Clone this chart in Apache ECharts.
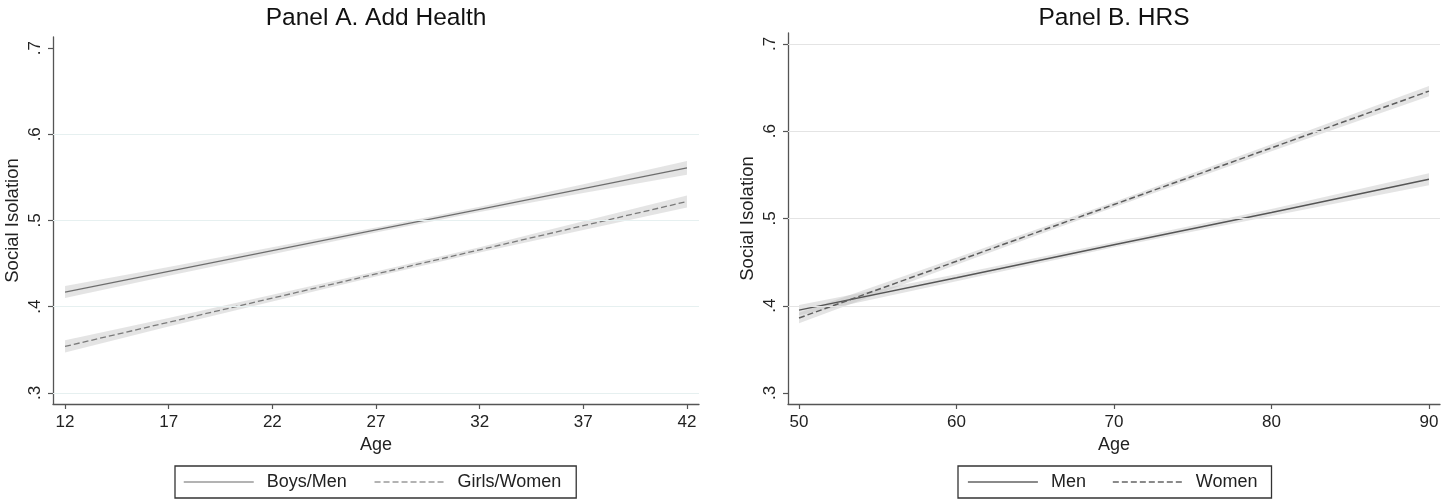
<!DOCTYPE html>
<html>
<head>
<meta charset="utf-8">
<script src="https://cdn.jsdelivr.net/npm/echarts@6/dist/echarts.min.js"></script>
<style>
html,body{margin:0;padding:0;background:#fff;}
#c{width:1448px;height:504px;}
</style>
</head>
<body>
<div id="c"></div>
<script>
// ---- Data ----
const titleA = 'Panel A. Add Health';
const titleB = 'Panel B. HRS';
const ageA = [12, 17, 22, 27, 32, 37, 42];
const boysMen   = [0.417, 0.441, 0.465, 0.489, 0.513, 0.537, 0.561];
const boysLo    = [0.410, 0.436, 0.461, 0.486, 0.510, 0.532, 0.553];
const boysHi    = [0.424, 0.446, 0.469, 0.492, 0.516, 0.542, 0.569];
const girlsWomen= [0.354, 0.382, 0.410, 0.438, 0.466, 0.494, 0.522];
const girlsLo   = [0.347, 0.377, 0.406, 0.435, 0.463, 0.489, 0.515];
const girlsHi   = [0.361, 0.387, 0.414, 0.441, 0.469, 0.499, 0.529];

const ageB = [50, 60, 70, 80, 90];
const men      = [0.395, 0.432, 0.470, 0.507, 0.545];
const menLo    = [0.389, 0.428, 0.467, 0.503, 0.538];
const menHi    = [0.401, 0.436, 0.473, 0.511, 0.552];
const women    = [0.386, 0.451, 0.516, 0.581, 0.646];
const womenLo  = [0.380, 0.447, 0.513, 0.577, 0.640];
const womenHi  = [0.392, 0.455, 0.519, 0.585, 0.652];

const xTicksA = [12, 17, 22, 27, 32, 37, 42];
const xTicksB = [50, 60, 70, 80, 90];
const yTicks  = [0.3, 0.4, 0.5, 0.6, 0.7];
const gridLinesA = [0.3, 0.4, 0.5, 0.6];
const gridLinesB = [0.4, 0.5, 0.6, 0.7];

// ---- Helpers ----
const FONT = 'Liberation Sans, Arial, Helvetica, sans-serif';
const pairs = (xs, ys) => xs.map((x, i) => [x, ys[i]]);
const yFmt = v => v.toFixed(1).replace(/^0\./, '.');

function band(idx, xs, lo, hi) {
  return {
    type: 'custom', xAxisIndex: idx, yAxisIndex: idx, silent: true, z: 1, clip: true,
    data: xs.map((x, i) => [x, lo[i], hi[i]]),
    encode: { x: 0, y: [1, 2] },
    renderItem: function (params, api) {
      if (params.dataIndex !== 0) return null;
      const pts = [];
      for (let i = 0; i < xs.length; i++) pts.push(api.coord([xs[i], hi[i]]));
      for (let i = xs.length - 1; i >= 0; i--) pts.push(api.coord([xs[i], lo[i]]));
      return { type: 'polygon', shape: { points: pts },
        style: { fill: 'rgba(190,190,190,0.42)', stroke: null } };
    }
  };
}
function gridMark(vals, color) {
  return { silent: true, symbol: 'none', label: { show: false },
    lineStyle: { color: color, width: 1, type: 'solid' },
    data: vals.map(v => ({ yAxis: v })) };
}
function xAxis(idx, min, max, ticks) {
  return { gridIndex: idx, type: 'value', min: min, max: max,
    name: 'Age', nameLocation: 'middle', nameGap: 31,
    nameTextStyle: { fontFamily: FONT, fontSize: 18, color: '#222' },
    axisLine: { show: true, onZero: false, lineStyle: { color: '#555', width: 1.3 } },
    axisTick: { show: true, length: 5, customValues: ticks, lineStyle: { color: '#555', width: 1.2 } },
    axisLabel: { customValues: ticks, fontFamily: FONT, fontSize: 17, color: '#222', margin: 10 },
    splitLine: { show: false } };
}
function yAxis(idx, min, max) {
  return { gridIndex: idx, type: 'value', min: min, max: max,
    name: 'Social Isolation', nameLocation: 'middle', nameGap: 31,
    nameTextStyle: { fontFamily: FONT, fontSize: 18.5, color: '#222' },
    axisLine: { show: true, onZero: false, lineStyle: { color: '#555', width: 1.3 } },
    axisTick: { show: true, length: 5, customValues: yTicks, lineStyle: { color: '#555', width: 1.2 } },
    axisLabel: { customValues: yTicks, rotate: 90, formatter: yFmt, fontFamily: FONT, fontSize: 17, color: '#222', margin: 9 },
    splitLine: { show: false } };
}
function legend(names, left, pad, gap, lineColor, lineWidth) {
  return { data: names, left: left, top: 466, orient: 'horizontal',
    padding: pad, itemGap: gap, itemWidth: 70, itemHeight: 14,
    borderColor: '#333', borderWidth: 1.3, borderRadius: 0,
    itemStyle: { opacity: 0, borderWidth: 0 },
    lineStyle: { color: lineColor, width: lineWidth },
    textStyle: { fontFamily: FONT, fontSize: 18, color: '#222', padding: [0, 0, 0, 8] } };
}

const option = {
  animation: false,
  backgroundColor: '#fff',
  title: [
    { text: titleA, left: 376, top: 6, textAlign: 'center', padding: 0,
      textStyle: { fontFamily: FONT, fontSize: 24.5, fontWeight: 'normal', color: '#111' } },
    { text: titleB, left: 1114, top: 6, textAlign: 'center', padding: 0,
      textStyle: { fontFamily: FONT, fontSize: 24.5, fontWeight: 'normal', color: '#111' } }
  ],
  grid: [
    { left: 53, right: 749, top: 37, bottom: 100 },
    { left: 788, right: 8, top: 33, bottom: 100 }
  ],
  xAxis: [ xAxis(0, 11.42, 42.58, xTicksA), xAxis(1, 49.3, 90.7, xTicksB) ],
  yAxis: [ yAxis(0, 0.2872, 0.7128), yAxis(1, 0.2874, 0.7126) ],
  legend: [
    legend(['Boys/Men', 'Girls/Women'], 175, [7, 15, 7, 8], 27, '#9a9a9a', 1.5),
    legend(['Men', 'Women'], 958, [7, 14, 7, 9], 26, '#8a8a8a', 1.8)
  ],
  series: [
    band(0, ageA, boysLo, boysHi),
    band(0, ageA, girlsLo, girlsHi),
    band(1, ageB, menLo, menHi),
    band(1, ageB, womenLo, womenHi),
    { type: 'line', name: '_gridA', xAxisIndex: 0, yAxisIndex: 0, data: [], z: 0,
      markLine: gridMark(gridLinesA, '#e6f0f0') },
    { type: 'line', name: '_gridB', xAxisIndex: 1, yAxisIndex: 1, data: [], z: 0,
      markLine: gridMark(gridLinesB, '#e4e4e4') },
    { type: 'line', name: 'Boys/Men', xAxisIndex: 0, yAxisIndex: 0, data: pairs(ageA, boysMen),
      symbol: 'none', showSymbol: false, z: 3, lineStyle: { color: '#6e6e6e', width: 1.3 }, itemStyle: { color: '#6e6e6e' } },
    { type: 'line', name: 'Girls/Women', xAxisIndex: 0, yAxisIndex: 0, data: pairs(ageA, girlsWomen),
      symbol: 'none', showSymbol: false, z: 3, lineStyle: { color: '#7a7a7a', width: 1.3, type: [6, 3] }, itemStyle: { color: '#7a7a7a' } },
    { type: 'line', name: 'Men', xAxisIndex: 1, yAxisIndex: 1, data: pairs(ageB, men),
      symbol: 'none', showSymbol: false, z: 3, lineStyle: { color: '#555', width: 1.5 }, itemStyle: { color: '#555' } },
    { type: 'line', name: 'Women', xAxisIndex: 1, yAxisIndex: 1, data: pairs(ageB, women),
      symbol: 'none', showSymbol: false, z: 3, lineStyle: { color: '#5e5e5e', width: 1.5, type: [6, 3] }, itemStyle: { color: '#5e5e5e' } }
  ]
};

const chart = echarts.init(document.getElementById('c'), null, { renderer: 'canvas' });
chart.setOption(option);
</script>
</body>
</html>
